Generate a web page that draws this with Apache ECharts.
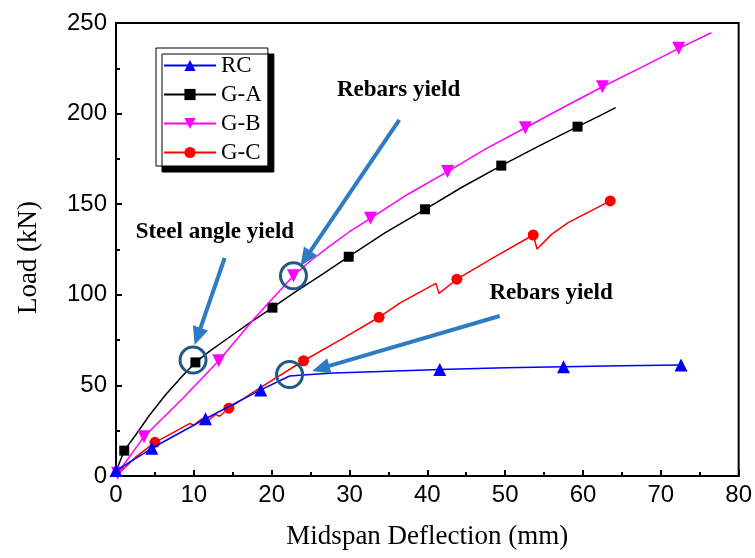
<!DOCTYPE html>
<html>
<head>
<meta charset="utf-8">
<script src="https://cdn.jsdelivr.net/npm/echarts@6/dist/echarts.min.js"></script>
<style>
    html, body { margin: 0; padding: 0; background: #fff; }
    #chart { width: 755px; height: 558px; }
</style>
</head>
<body>
<div id="chart"></div>
<script>
// [deflection mm, load kN, marker 1/0]
const rcData = [
    [0, 3, 1], [4.6, 15.3, 1], [11.5, 31.6, 1], [18.6, 47.5, 1], [22.3, 55.2, 0], [24, 55.8, 0],
    [28, 56.8, 0], [34, 57.7, 0], [41.6, 58.8, 1], [50, 59.7, 0], [57.5, 60.3, 1], [65, 60.8, 0],
    [72.6, 61.2, 1]
];
const gaData = [
    [0, 2.5, 0], [1.06, 14, 1], [2.5, 22.5, 0], [4.3, 33.5, 0], [6.4, 45, 0], [8.5, 55, 0],
    [10.2, 62.7, 1], [12, 68.8, 0], [14.1, 75.2, 0], [17, 84, 0], [20.1, 92.9, 1], [23, 101.5, 0],
    [26.5, 111.3, 0], [29.9, 121, 1], [34.5, 134, 0], [39.7, 147.2, 1], [44.5, 159.5, 0],
    [49.5, 171.3, 1], [54.5, 182.5, 0], [59.3, 192.8, 1], [62, 198.5, 0], [64.2, 203.3, 0]
];
const gbData = [
    [0.2, 1.5, 1], [3.6, 21.7, 1], [8.5, 42.5, 0], [13.2, 63.6, 1], [17.8, 87, 0], [22.8, 110.5, 1],
    [25, 118.8, 0], [27.5, 127, 0], [30, 134.8, 0], [32.7, 142.2, 1], [37.5, 155.5, 0],
    [42.6, 168, 1], [47.5, 180.5, 0], [52.6, 192.2, 1], [57.5, 203.5, 0], [62.5, 214.8, 1],
    [67.5, 225.5, 0], [72.3, 236, 1], [76.5, 244.6, 0]
];
const gcData = [
    [0, 0, 0], [2.6, 10.7, 0], [5, 18.6, 1], [8, 25.5, 0], [9.5, 29, 0], [10, 28, 0], [11, 31.5, 0],
    [11.8, 30.5, 0], [12.8, 34, 0], [13.3, 33, 0], [14.5, 37.4, 1], [19, 50, 0], [24.1, 63.6, 1],
    [29, 75.5, 0], [33.8, 87.6, 1], [36.4, 95.3, 0], [41.1, 106.3, 0], [41.5, 100.8, 0],
    [43.8, 108.6, 1], [48.5, 120.5, 0], [53.6, 133, 1], [54.1, 125.3, 0], [56, 133.5, 0],
    [58.1, 139.8, 0], [63.5, 151.8, 1]
];

// annotations, in data coordinates
const yieldCircles = [[22.8, 110.5], [9.9, 64], [22.3, 56]];
const arrows = [
    [[36.4, 196.5], [23.7, 115.9]],
    [[13.96, 120.3], [10.1, 72.3]],
    [[49.3, 88.3], [25.2, 58]]
];
const notes = [
    ['Rebars yield', 36.3, 213],
    ['Steel angle yield', 12.7, 134.7],
    ['Rebars yield', 55.9, 101]
];

const serif = '"Liberation Serif", "Times New Roman", serif';
const sans = '"Liberation Sans", Arial, sans-serif';

function toItems(arr, shape) {
    return arr.map(function (p) {
        return { value: [p[0], p[1]], symbol: p[2] ? shape : 'none' };
    });
}

function makeSeries(name, arr, color, shape, size, rotate, z) {
    return {
        name: name,
        type: 'line',
        data: toItems(arr, shape),
        symbol: shape,
        symbolSize: size,
        symbolRotate: rotate,
        showAllSymbol: true,
        z: z,
        lineStyle: { color: color, width: 1.5 },
        itemStyle: { color: color },
        emphasis: { disabled: true }
    };
}

const chart = echarts.init(document.getElementById('chart'));

chart.setOption({
    animation: false,
    grid: {
        left: 116, top: 23, right: 14, bottom: 82,
        show: true, borderColor: '#000', borderWidth: 2, backgroundColor: 'transparent'
    },
    legend: {
        data: ['RC', 'G-A', 'G-B', 'G-C'],
        orient: 'vertical',
        left: 156, top: 48,
        itemWidth: 52, itemHeight: 14, itemGap: 6,
        padding: [6, 6, 2, 7],
        backgroundColor: '#fff',
        borderColor: '#000', borderWidth: 1,
        shadowColor: '#000', shadowBlur: 0, shadowOffsetX: 6, shadowOffsetY: 6,
        textStyle: { fontFamily: serif, fontSize: 23, color: '#000', lineHeight: 23 }
    },
    xAxis: {
        type: 'value', min: 0, max: 80, interval: 10,
        name: 'Midspan Deflection (mm)', nameLocation: 'middle', nameGap: 47,
        nameTextStyle: { fontFamily: serif, fontSize: 27, color: '#000' },
        axisLine: { lineStyle: { color: '#000', width: 2 } },
        axisTick: { inside: true, length: 6, lineStyle: { color: '#000', width: 2 } },
        minorTick: { show: true, splitNumber: 2, length: 4, lineStyle: { color: '#000', width: 2 } },
        splitLine: { show: false },
        axisLabel: { fontFamily: sans, fontSize: 24, color: '#000', margin: 7 }
    },
    yAxis: {
        type: 'value', min: 0, max: 250, interval: 50,
        name: 'Load (kN)', nameLocation: 'middle', nameGap: 74,
        nameTextStyle: { fontFamily: serif, fontSize: 27, color: '#000', padding: [0, 16, 0, 0] },
        axisLine: { lineStyle: { color: '#000', width: 2 } },
        axisTick: { inside: true, length: 6, lineStyle: { color: '#000', width: 2 } },
        minorTick: { show: true, splitNumber: 2, length: 4, lineStyle: { color: '#000', width: 2 } },
        splitLine: { show: false },
        axisLabel: { fontFamily: sans, fontSize: 24, color: '#000', margin: 9 }
    },
    series: [
        makeSeries('RC', rcData, '#0000ff', 'triangle', 13, 0, 6),
        makeSeries('G-A', gaData, '#000000', 'rect', 10, 0, 4),
        makeSeries('G-B', gbData, '#ff00ff', 'triangle', 13, 180, 5),
        makeSeries('G-C', gcData, '#ff0000', 'circle', 11, 0, 3)
    ]
});

// arrows, circles and notes placed from data coordinates
const graphics = [];
const arrowColor = '#2e7bc4';
arrows.forEach(function (a) {
    const p0 = chart.convertToPixel({ gridIndex: 0 }, a[0]);
    const p1 = chart.convertToPixel({ gridIndex: 0 }, a[1]);
    const dx = p1[0] - p0[0], dy = p1[1] - p0[1];
    const len = Math.sqrt(dx * dx + dy * dy);
    const ux = dx / len, uy = dy / len;
    const headLen = 18, headW = 8;
    const bx = p1[0] - ux * headLen, by = p1[1] - uy * headLen;
    graphics.push({
        type: 'line', z: 100,
        shape: { x1: p0[0], y1: p0[1], x2: bx + ux * 2, y2: by + uy * 2 },
        style: { stroke: arrowColor, lineWidth: 4 }
    });
    graphics.push({
        type: 'polygon', z: 100,
        shape: { points: [[p1[0], p1[1]], [bx - uy * headW, by + ux * headW], [bx + uy * headW, by - ux * headW]] },
        style: { fill: arrowColor }
    });
});
yieldCircles.forEach(function (c) {
    const p = chart.convertToPixel({ gridIndex: 0 }, c);
    graphics.push({
        type: 'circle', z: 101,
        shape: { cx: p[0], cy: p[1], r: 13 },
        style: { fill: 'none', stroke: '#1f5b87', lineWidth: 3 }
    });
});
notes.forEach(function (n) {
    const p = chart.convertToPixel({ gridIndex: 0 }, [n[1], n[2]]);
    graphics.push({
        type: 'text', z: 102, x: p[0], y: p[1],
        style: {
            text: n[0], align: 'center', verticalAlign: 'middle',
            font: 'bold 23px ' + serif, fill: '#000'
        }
    });
});
chart.setOption({ graphic: graphics });
</script>
</body>
</html>
